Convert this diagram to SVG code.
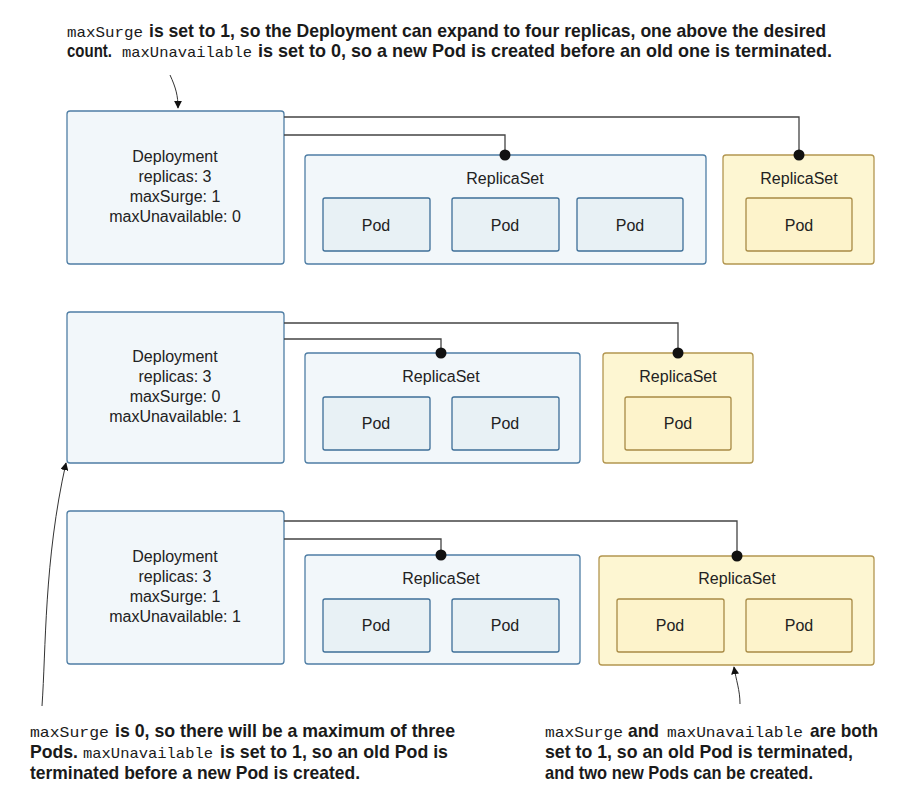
<svg xmlns="http://www.w3.org/2000/svg" width="913" height="807" viewBox="0 0 913 807">
<defs>
<style>
.dep{fill:#f2f7fa;stroke:#4f7ea5;stroke-width:1.3}
.rs{fill:#f2f7fa;stroke:#4f7ea5;stroke-width:1.3}
.pod{fill:#e8f1f5;stroke:#3e6f98;stroke-width:1.3}
.yrs{fill:#fdf6d2;stroke:#b39650;stroke-width:1.3}
.ypod{fill:#fdf3cb;stroke:#a88a45;stroke-width:1.3}
.lbl{font-family:"Liberation Sans",Arial,sans-serif;font-size:16px;fill:#222;text-anchor:middle}
.conn{fill:none;stroke:#444;stroke-width:1.3}
.dot{fill:#111}
.ann{fill:none;stroke:#333;stroke-width:1}
.b{font-family:"Liberation Sans",Arial,sans-serif;font-size:18.5px;font-weight:bold;fill:#1a1a1a}
.m{font-family:"Liberation Mono","Courier New",monospace;font-size:15px;fill:#1a1a1a}
</style>
<marker id="ah" viewBox="0 0 10 10" refX="9" refY="5" markerWidth="8" markerHeight="8" markerUnits="userSpaceOnUse" orient="auto"><path d="M0,0 L10,5 L0,10 z" fill="#111"/></marker>
</defs>

<!-- annotations text -->
<g id="note-top">
<text class="m" x="67" y="37" textLength="76" lengthAdjust="spacingAndGlyphs">maxSurge</text>
<text class="b" x="149" y="37" textLength="677" lengthAdjust="spacingAndGlyphs">is set to 1, so the Deployment can expand to four replicas, one above the desired</text>
<text class="b" x="67" y="57" textLength="45" lengthAdjust="spacingAndGlyphs">count.</text>
<text class="m" x="122" y="57" textLength="130" lengthAdjust="spacingAndGlyphs">maxUnavailable</text>
<text class="b" x="258" y="57" textLength="574" lengthAdjust="spacingAndGlyphs">is set to 0, so a new Pod is created before an old one is terminated.</text>
</g>
<g id="note-left">
<text class="m" x="30" y="737" textLength="79" lengthAdjust="spacingAndGlyphs">maxSurge</text>
<text class="b" x="115" y="737" textLength="340" lengthAdjust="spacingAndGlyphs">is 0, so there will be a maximum of three</text>
<text class="b" x="30" y="758" textLength="48" lengthAdjust="spacingAndGlyphs">Pods.</text>
<text class="m" x="83" y="758" textLength="130" lengthAdjust="spacingAndGlyphs">maxUnavailable</text>
<text class="b" x="220" y="758" textLength="228" lengthAdjust="spacingAndGlyphs">is set to 1, so an old Pod is</text>
<text class="b" x="30" y="779" textLength="330" lengthAdjust="spacingAndGlyphs">terminated before a new Pod is created.</text>
</g>
<g id="note-right">
<text class="m" x="545" y="737" textLength="78" lengthAdjust="spacingAndGlyphs">maxSurge</text>
<text class="b" x="628" y="737" textLength="31" lengthAdjust="spacingAndGlyphs">and</text>
<text class="m" x="667" y="737" textLength="136" lengthAdjust="spacingAndGlyphs">maxUnavailable</text>
<text class="b" x="810" y="737" textLength="68" lengthAdjust="spacingAndGlyphs">are both</text>
<text class="b" x="545" y="758" textLength="308" lengthAdjust="spacingAndGlyphs">set to 1, so an old Pod is terminated,</text>
<text class="b" x="545" y="779" textLength="268" lengthAdjust="spacingAndGlyphs">and two new Pods can be created.</text>
</g>

<!-- section 1 -->
<g id="deployment1">
<rect class="dep" x="67" y="111" width="217" height="153" rx="3"/>
<text class="lbl" x="175" y="162">Deployment</text>
<text class="lbl" x="175" y="182">replicas: 3</text>
<text class="lbl" x="175" y="202">maxSurge: 1</text>
<text class="lbl" x="175" y="222">maxUnavailable: 0</text>
</g>
<g id="replicaset1a">
<rect class="rs" x="305" y="155" width="401" height="109" rx="3"/>
<text class="lbl" x="505" y="184">ReplicaSet</text>
<rect class="pod" x="323" y="198" width="107" height="53" rx="2"/>
<text class="lbl" x="376" y="231">Pod</text>
<rect class="pod" x="452" y="198" width="107" height="53" rx="2"/>
<text class="lbl" x="505" y="231">Pod</text>
<rect class="pod" x="577" y="198" width="106" height="53" rx="2"/>
<text class="lbl" x="630" y="231">Pod</text>
</g>
<g id="replicaset1b">
<rect class="yrs" x="723" y="155" width="151" height="109" rx="3"/>
<text class="lbl" x="799" y="184">ReplicaSet</text>
<rect class="ypod" x="746" y="198" width="106" height="53" rx="2"/>
<text class="lbl" x="799" y="231">Pod</text>
</g>

<!-- section 2 -->
<g id="deployment2">
<rect class="dep" x="67" y="312" width="217" height="151" rx="3"/>
<text class="lbl" x="175" y="362">Deployment</text>
<text class="lbl" x="175" y="382">replicas: 3</text>
<text class="lbl" x="175" y="402">maxSurge: 0</text>
<text class="lbl" x="175" y="422">maxUnavailable: 1</text>
</g>
<g id="replicaset2a">
<rect class="rs" x="305" y="353" width="275" height="110" rx="3"/>
<text class="lbl" x="441" y="382">ReplicaSet</text>
<rect class="pod" x="323" y="397" width="107" height="53" rx="2"/>
<text class="lbl" x="376" y="429">Pod</text>
<rect class="pod" x="452" y="397" width="107" height="53" rx="2"/>
<text class="lbl" x="505" y="429">Pod</text>
</g>
<g id="replicaset2b">
<rect class="yrs" x="603" y="353" width="150" height="110" rx="3"/>
<text class="lbl" x="678" y="382">ReplicaSet</text>
<rect class="ypod" x="625" y="397" width="106" height="53" rx="2"/>
<text class="lbl" x="678" y="429">Pod</text>
</g>

<!-- section 3 -->
<g id="deployment3">
<rect class="dep" x="67" y="511" width="217" height="153" rx="3"/>
<text class="lbl" x="175" y="562">Deployment</text>
<text class="lbl" x="175" y="582">replicas: 3</text>
<text class="lbl" x="175" y="602">maxSurge: 1</text>
<text class="lbl" x="175" y="622">maxUnavailable: 1</text>
</g>
<g id="replicaset3a">
<rect class="rs" x="305" y="555" width="275" height="109" rx="3"/>
<text class="lbl" x="441" y="584">ReplicaSet</text>
<rect class="pod" x="323" y="599" width="107" height="53" rx="2"/>
<text class="lbl" x="376" y="631">Pod</text>
<rect class="pod" x="452" y="599" width="107" height="53" rx="2"/>
<text class="lbl" x="505" y="631">Pod</text>
</g>
<g id="replicaset3b">
<rect class="yrs" x="599" y="556" width="275" height="109" rx="3"/>
<text class="lbl" x="737" y="584">ReplicaSet</text>
<rect class="ypod" x="617" y="599" width="107" height="53" rx="2"/>
<text class="lbl" x="670" y="631">Pod</text>
<rect class="ypod" x="746" y="599" width="106" height="53" rx="2"/>
<text class="lbl" x="799" y="631">Pod</text>
</g>

<!-- connectors -->
<g id="connectors">
<path class="conn" d="M284,117 H799 V155"/>
<path class="conn" d="M284,135 H505 V155"/>
<circle class="dot" cx="799" cy="155" r="5.5"/>
<circle class="dot" cx="505" cy="155" r="5.5"/>
<path class="conn" d="M284,323 H678 V353"/>
<path class="conn" d="M284,339 H441 V353"/>
<circle class="dot" cx="678" cy="353" r="5.5"/>
<circle class="dot" cx="441" cy="353" r="5.5"/>
<path class="conn" d="M284,521 H737 V556"/>
<path class="conn" d="M284,539 H441 V555"/>
<circle class="dot" cx="737" cy="556" r="5.5"/>
<circle class="dot" cx="441" cy="555" r="5.5"/>
<path class="ann" d="M170,75 C176,88 178,96 178,108" marker-end="url(#ah)"/>
<path class="ann" d="M42,706 C46,650 44,560 66,463" marker-end="url(#ah)"/>
<path class="ann" d="M740,704 C740,690 736,680 734,667" marker-end="url(#ah)"/>
</g>
</svg>
